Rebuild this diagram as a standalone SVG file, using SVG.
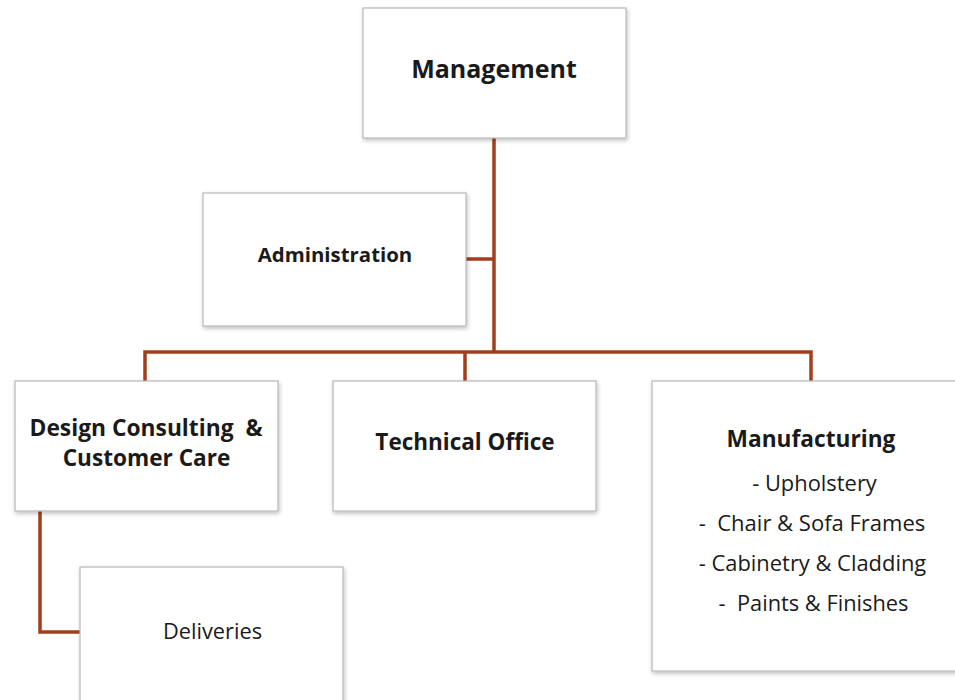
<svg xmlns="http://www.w3.org/2000/svg" width="955" height="700" viewBox="0 0 955 700">
<defs>
<filter id="sh" x="-10%" y="-10%" width="130%" height="130%">
<feDropShadow dx="1" dy="2" stdDeviation="2" flood-color="#000" flood-opacity="0.25"/>
</filter>
<style>
.box{fill:#fff;stroke:#b8b8b8;stroke-width:1.2;filter:url(#sh)}
.t{font-family:"Open Sans","Liberation Sans",sans-serif;fill:#1a1a1a;text-anchor:middle;white-space:pre}
.b{font-weight:bold}
.c{fill:none;stroke:#a33e1c;stroke-width:3.5}
</style>
</defs>
<rect width="955" height="700" fill="#fff"/>
<g id="connectors">
<path class="c" d="M494 138 V352"/>
<path class="c" d="M466 259 H494"/>
<path class="c" d="M145 381 V352 H811 V381"/>
<path class="c" d="M465 352 V381"/>
<path class="c" d="M40 511 V632 H80"/>
</g>
<g id="management">
<rect class="box" x="363" y="8" width="263" height="130"/>
<text class="t b" x="494" y="78" font-size="25">Management</text>
</g>
<g id="administration">
<rect class="box" x="203" y="193" width="263" height="133"/>
<text class="t b" x="335" y="262" font-size="20.4">Administration</text>
</g>
<g id="design">
<rect class="box" x="15" y="381" width="263" height="130"/>
<text class="t b" x="146" y="436" font-size="22.8" xml:space="preserve">Design Consulting  &amp;</text>
<text class="t b" x="146.5" y="466" font-size="22.6">Customer Care</text>
</g>
<g id="technical">
<rect class="box" x="333" y="381" width="263" height="130"/>
<text class="t b" x="465" y="450" font-size="22.5">Technical Office</text>
</g>
<g id="manufacturing">
<rect class="box" x="652" y="381" width="310" height="290"/>
<text class="t b" x="811" y="447" font-size="22.7">Manufacturing</text>
<text class="t" x="814.5" y="491" font-size="21.9">- Upholstery</text>
<text class="t" x="812" y="531" font-size="22" xml:space="preserve">-  Chair &amp; Sofa Frames</text>
<text class="t" x="812.5" y="571" font-size="21.9">- Cabinetry &amp; Cladding</text>
<text class="t" x="813.5" y="611" font-size="21.8" xml:space="preserve">-  Paints &amp; Finishes</text>
</g>
<g id="deliveries">
<rect class="box" x="80" y="567" width="263" height="140"/>
<text class="t" x="212.5" y="639" font-size="21.8">Deliveries</text>
</g>
</svg>
